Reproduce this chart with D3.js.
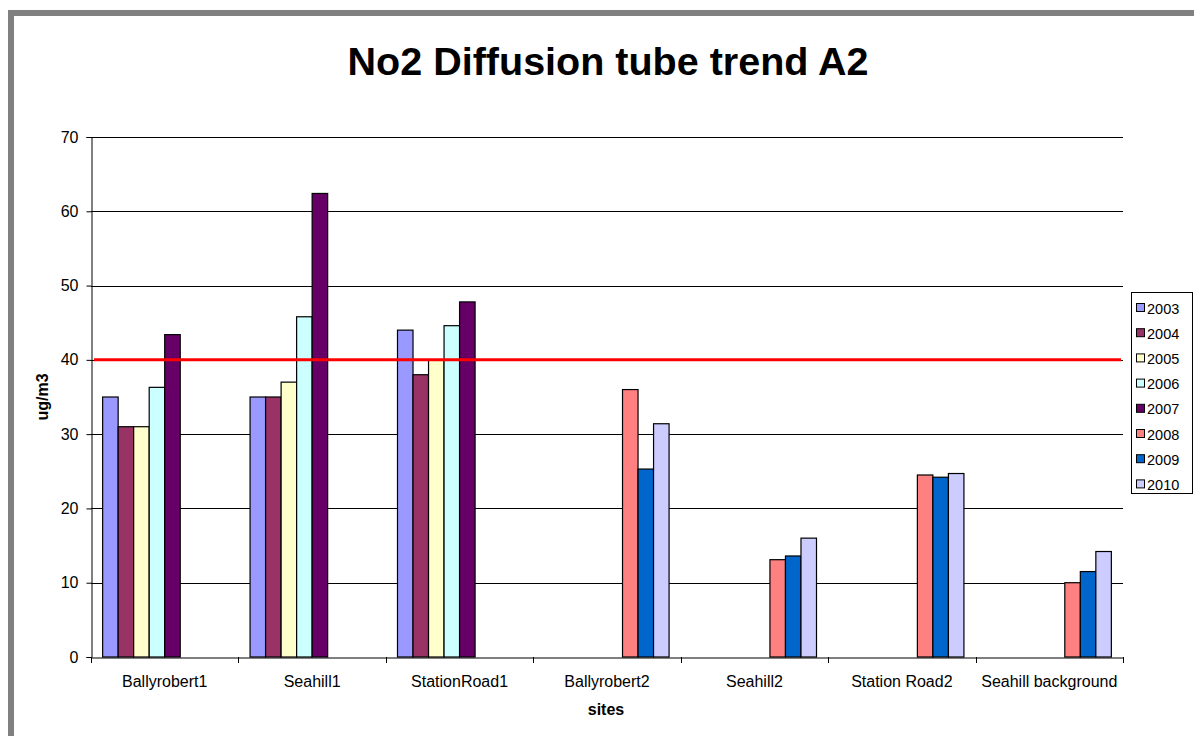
<!DOCTYPE html>
<html>
<head>
	<title>No2 Diffusion tube trend A2</title>
	<script src="https://d3js.org/d3.v7.min.js"></script>
	<style>
		body { margin: 0; background: #fff; }
		text { font-family: Arial, "Liberation Sans", sans-serif; fill: #000; }
	</style>
</head>
<body>
<svg width="1194" height="736"></svg>

<script type="text/javascript">
var width = 1194, height = 736;

var sites = ["Ballyrobert1", "Seahill1", "StationRoad1", "Ballyrobert2", "Seahill2", "Station Road2", "Seahill background"];
var years = ["2003", "2004", "2005", "2006", "2007", "2008", "2009", "2010"];
var colors = ["#9999FF", "#993366", "#FFFFCC", "#CCFFFF", "#660066", "#FF8080", "#0066CC", "#CCCCFF"];

// one array per year, one value per site (null = no measurement)
var v2003 = [35, 35, 44, null, null, null, null];
var v2004 = [31, 35, 38, null, null, null, null];
var v2005 = [31, 37, 40, null, null, null, null];
var v2006 = [36.3, 45.8, 44.6, null, null, null, null];
var v2007 = [43.4, 62.4, 47.8, null, null, null, null];
var v2008 = [null, null, null, 36, 13.1, 24.5, 10];
var v2009 = [null, null, null, 25.3, 13.6, 24.2, 11.5];
var v2010 = [null, null, null, 31.4, 16, 24.7, 14.2];
var series = [v2003, v2004, v2005, v2006, v2007, v2008, v2009, v2010];

var yTicks = [0, 10, 20, 30, 40, 50, 60, 70];
var limit = 40;

var margin = {left: 91, right: 1123, top: 137, bottom: 657};

var svg = d3.select('svg');

// chart frame (only the left and top edges are visible)
svg.append('rect').attr('x', 8).attr('y', 10).attr('width', 6).attr('height', height - 10).attr('fill', '#808080');
svg.append('rect').attr('x', 8).attr('y', 10).attr('width', width - 8).attr('height', 6).attr('fill', '#808080');

var x = d3.scaleBand()
	.domain(sites)
	.range([margin.left, margin.right])
	.paddingInner(0)
	.paddingOuter(0);

var inner = d3.scaleBand()
	.domain(years)
	.range([0, x.bandwidth()])
	.paddingOuter(0.75)
	.paddingInner(0);

var y = d3.scaleLinear()
	.domain([0, 70])
	.range([margin.bottom, margin.top]);

// gridlines
svg.append('g')
	.selectAll('line')
	.data(yTicks.slice(1))
	.enter()
	.append('line')
	.attr('x1', margin.left)
	.attr('x2', margin.right)
	.attr('y1', function(d) { return Math.round(y(d)) + 0.5; })
	.attr('y2', function(d) { return Math.round(y(d)) + 0.5; })
	.attr('stroke', '#000')
	.attr('stroke-width', 1);

// bars
var flat = [];
series.forEach(function(vals, i) {
	vals.forEach(function(v, j) {
		if (v !== null) flat.push({year: years[i], site: sites[j], value: v, color: colors[i]});
	});
});

svg.append('g')
	.selectAll('rect')
	.data(flat)
	.enter()
	.append('rect')
	.attr('x', function(d) { return x(d.site) + inner(d.year); })
	.attr('y', function(d) { return y(d.value); })
	.attr('width', inner.bandwidth())
	.attr('height', function(d) { return y(0) - y(d.value); })
	.attr('fill', function(d) { return d.color; })
	.attr('stroke', '#000')
	.attr('stroke-width', 1.2);

// limit line
svg.append('line')
	.attr('x1', margin.left + 3)
	.attr('x2', margin.right - 2)
	.attr('y1', y(limit))
	.attr('y2', y(limit))
	.attr('stroke', '#FF0000')
	.attr('stroke-width', 3);

// y axis
var yAxis = d3.axisLeft(y)
	.tickValues(yTicks)
	.tickSize(5)
	.tickPadding(8);
var gy = svg.append('g')
	.attr('transform', 'translate(' + (margin.left + 0.5) + ',0)')
	.call(yAxis);
gy.selectAll('text').style('font-size', '16px');
gy.selectAll('line, path').attr('stroke', '#000');

// x axis
var xAxis = d3.axisBottom(x)
	.tickSize(0)
	.tickPadding(18);
var gx = svg.append('g')
	.attr('transform', 'translate(0,' + (margin.bottom + 0.5) + ')')
	.call(xAxis);
gx.select('.domain').attr('stroke', '#000');
gx.selectAll('text').style('font-size', '16px');

// category boundary ticks
svg.append('g')
	.selectAll('line')
	.data(sites.concat(['end']))
	.enter()
	.append('line')
	.attr('x1', function(d, i) { return Math.round(margin.left + i * x.step()) + 0.5; })
	.attr('x2', function(d, i) { return Math.round(margin.left + i * x.step()) + 0.5; })
	.attr('y1', margin.bottom)
	.attr('y2', margin.bottom + 6)
	.attr('stroke', '#000');

// title and axis titles
svg.append('text')
	.attr('x', 608)
	.attr('y', 75)
	.attr('text-anchor', 'middle')
	.style('font-size', '39.5px')
	.style('font-weight', 'bold')
	.text('No2 Diffusion tube trend A2');

svg.append('text')
	.attr('x', 606)
	.attr('y', 715)
	.attr('text-anchor', 'middle')
	.style('font-size', '16px')
	.style('font-weight', 'bold')
	.text('sites');

svg.append('text')
	.attr('transform', 'translate(48,' + ((margin.top + margin.bottom) / 2) + ') rotate(-90)')
	.attr('text-anchor', 'middle')
	.style('font-size', '16px')
	.style('font-weight', 'bold')
	.text('ug/m3');

// legend
var legend = svg.append('g');
legend.append('rect')
	.attr('x', 1131.5)
	.attr('y', 292.5)
	.attr('width', 61)
	.attr('height', 201)
	.attr('fill', '#fff')
	.attr('stroke', '#000');

var items = legend.selectAll('g.item')
	.data(years)
	.enter()
	.append('g')
	.attr('class', 'item')
	.attr('transform', function(d, i) { return 'translate(1136,' + (308 + i * 25.2) + ')'; });

items.append('rect')
	.attr('x', 0.5)
	.attr('y', -4.5)
	.attr('width', 8)
	.attr('height', 8)
	.attr('fill', function(d, i) { return colors[i]; })
	.attr('stroke', '#000');

items.append('text')
	.attr('x', 11)
	.attr('y', 5.5)
	.style('font-size', '14.5px')
	.text(function(d) { return d; });
</script>

</body>
</html>
